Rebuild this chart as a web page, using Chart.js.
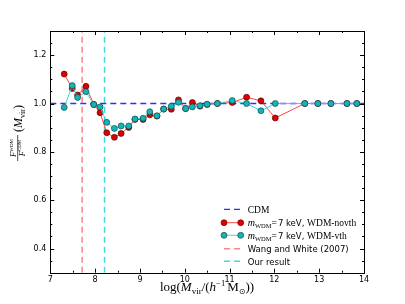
<!DOCTYPE html>
<html>
<head>
<meta charset="utf-8">
<script src="https://cdn.jsdelivr.net/npm/chart.js@4/dist/chart.umd.min.js"></script>
<style>
html,body{margin:0;padding:0;background:#fff;}
#wrap{width:405px;height:304px;position:relative;}
</style>
</head>
<body>
<div id="wrap"><canvas id="c" width="405" height="304"></canvas></div>
<script>
// ---- data ----
const massBins = [7.31, 7.49, 7.61, 7.795, 7.97, 8.11, 8.26, 8.43, 8.58, 8.75, 8.89, 9.07, 9.22, 9.38, 9.53, 9.70, 9.86, 10.02, 10.17, 10.34, 10.50, 10.73, 11.06, 11.38, 11.70, 12.02, 12.68, 12.97, 13.26, 13.62, 13.84];
const ratioNovth = [1.122, 1.062, 1.035, 1.071, 0.996, 0.962, 0.879, 0.860, 0.876, 0.901, 0.934, 0.934, 0.953, 0.948, 0.977, 0.976, 1.015, 0.979, 1.004, 0.989, 0.996, 1.0, 1.004, 1.026, 1.011, 0.940, 1.0, 1.0, 1.0, 1.0, 1.0];
const ratioVth = [0.984, 1.074, 1.025, 1.049, 0.996, 0.986, 0.922, 0.897, 0.907, 0.907, 0.936, 0.939, 0.966, 0.949, 0.977, 0.989, 1.005, 0.979, 0.986, 0.991, 0.997, 1.0, 1.012, 1.0, 0.970, 1.0, 1.0, 1.0, 1.0, 1.0, 1.0];
const cdmX = [7, 14];
const cdmY = [1.0, 1.0];
const wangWhiteMass = 7.71;
const ourResultMass = 8.21;
const xTickValues = [7, 8, 9, 10, 11, 12, 13, 14];
const yTickValues = [0.4, 0.6, 0.8, 1.0, 1.2];
const xMinorTicks = [7.5, 8.5, 9.5, 10.5, 11.5, 12.5, 13.5];
const yMinorTicks = [0.35, 0.45, 0.5, 0.55, 0.65, 0.7, 0.75, 0.85, 0.9, 0.95, 1.05, 1.1, 1.15, 1.25];
const legendLabels = ['CDM', 'mWDM = 7 keV, WDM-novth', 'mWDM = 7 keV, WDM-vth', 'Wang and White (2007)', 'Our result'];

const SERIF = '"Liberation Serif", "DejaVu Serif", serif';
const SANS = '"DejaVu Sans", sans-serif';

const colRedLine = 'rgba(255,40,40,0.85)';
const colRedFill = '#e00000';
const colCyanLine = 'rgba(40,215,215,0.9)';
const colCyanFill = '#12b5b5';
const colBlue = '#2f2fff';
const colRedV = 'rgba(255,90,90,0.75)';
const colCyanV = 'rgba(40,215,215,0.9)';

function pts(xs, ys) { return xs.map((x, i) => ({x: x, y: ys[i]})); }

function drawRich(ctx, segs, x, y, align) {
  let total = 0;
  segs.forEach(s => { ctx.font = s.font; s.w = ctx.measureText(s.t).width; total += s.w + (s.gap || 0); });
  let cx = align === 'center' ? x - total / 2 : x;
  segs.forEach(s => {
    ctx.font = s.font;
    ctx.fillText(s.t, cx, y + (s.dy || 0));
    cx += s.w + (s.gap || 0);
  });
  return total;
}

const decorPlugin = {
  id: 'decor',
  afterDatasetsDraw(chart) {
    const ctx = chart.ctx;
    const a = chart.chartArea;
    const xs = chart.scales.x, ys = chart.scales.y;
    ctx.save();
    // frame
    ctx.strokeStyle = '#000';
    ctx.lineWidth = 1;
    ctx.strokeRect(Math.round(a.left) + 0.5, Math.round(a.top) + 0.5, Math.round(a.right - a.left), Math.round(a.bottom - a.top));
    // inward ticks on all sides
    ctx.beginPath();
    const tickX = (v, len) => {
      const p = Math.round(xs.getPixelForValue(v)) + 0.5;
      ctx.moveTo(p, a.bottom); ctx.lineTo(p, a.bottom - len);
      ctx.moveTo(p, a.top); ctx.lineTo(p, a.top + len);
    };
    const tickY = (v, len) => {
      const p = Math.round(ys.getPixelForValue(v)) + 0.5;
      ctx.moveTo(a.left, p); ctx.lineTo(a.left + len, p);
      ctx.moveTo(a.right, p); ctx.lineTo(a.right - len, p);
    };
    xTickValues.forEach(v => tickX(v, 4));
    xMinorTicks.forEach(v => tickX(v, 2));
    yTickValues.forEach(v => tickY(v, 4));
    yMinorTicks.forEach(v => tickY(v, 2));
    ctx.stroke();

    // legend
    ctx.fillStyle = '#000';
    const lx0 = 224, lx1 = 240.7, tx = 247.7;
    const rows = [209.3, 222.7, 235.3, 248.7, 261.3];
    const ds = chart.data.datasets;
    [0, 1, 2, 3, 4].forEach((di, i) => {
      const d = ds[di];
      const y = rows[i];
      ctx.save();
      ctx.strokeStyle = d.borderColor;
      ctx.lineWidth = d.borderWidth;
      ctx.setLineDash(d.borderDash || []);
      ctx.beginPath();
      ctx.moveTo(lx0, y); ctx.lineTo(lx1, y);
      ctx.stroke();
      ctx.setLineDash([]);
      if (d.pointRadius > 0) {
        [lx0, lx1].forEach(px => {
          ctx.beginPath();
          ctx.arc(px, y, d.pointRadius, 0, Math.PI * 2);
          ctx.fillStyle = d.pointBackgroundColor;
          ctx.fill();
          ctx.lineWidth = d.pointBorderWidth;
          ctx.strokeStyle = d.pointBorderColor;
          ctx.stroke();
        });
      }
      ctx.restore();
      ctx.fillStyle = '#000';
      ctx.textBaseline = 'alphabetic';
      const by = y + 3.2;
      if (i === 0) {
        drawRich(ctx, [{t: 'CDM', font: '9.5px ' + SERIF}], tx, by, 'left');
      } else if (i === 1 || i === 2) {
        drawRich(ctx, [
          {t: 'm', font: 'italic 10px ' + SERIF},
          {t: 'WDM', font: '6.5px ' + SERIF, dy: 2},
          {t: '=', font: '9.5px ' + SERIF, gap: 1},
          {t: '7 keV, ', font: '8.5px ' + SANS},
          {t: i === 1 ? 'WDM-novth' : 'WDM-vth', font: '9.5px ' + SERIF}
        ], tx, by, 'left');
      } else {
        drawRich(ctx, [{t: legendLabels[i], font: '8.5px ' + SANS}], tx, by, 'left');
      }
    });

    // x title
    ctx.textBaseline = 'alphabetic';
    drawRich(ctx, [
      {t: 'log(', font: '13px ' + SERIF},
      {t: 'M', font: 'italic 13px ' + SERIF},
      {t: 'vir', font: '9px ' + SERIF, dy: 2.5},
      {t: '/(', font: '13px ' + SERIF},
      {t: 'h', font: 'italic 13px ' + SERIF},
      {t: '\u22121', font: '8.5px ' + SERIF, dy: -5, gap: 2},
      {t: 'M', font: '13px ' + SERIF},
      {t: '\u2299', font: '8px "DejaVu Sans", sans-serif', dy: 2.5},
      {t: '))', font: '13px ' + SERIF}
    ], 207, 291, 'center');

    // y title (rotated)
    ctx.save();
    ctx.translate(17.5, 131);
    ctx.rotate(-Math.PI / 2);
    const num = [
      {t: 'F', font: 'italic 8.5px ' + SERIF},
      {t: 'WDM', font: '5px ' + SERIF, dy: -3.5}
    ];
    const den = [
      {t: 'F', font: 'italic 8.5px ' + SERIF},
      {t: 'CDM', font: '5px ' + SERIF, dy: -3.5}
    ];
    drawRich(ctx, num, -17, -1.5, 'center');
    drawRich(ctx, den, -17, 7, 'center');
    ctx.lineWidth = 0.7;
    ctx.strokeStyle = '#000';
    ctx.beginPath();
    ctx.moveTo(-30, 0.2); ctx.lineTo(-4, 0.2);
    ctx.stroke();
    drawRich(ctx, [
      {t: '(', font: '12px ' + SERIF},
      {t: 'M', font: 'italic 12px ' + SERIF},
      {t: 'vir', font: '8px ' + SERIF, dy: 2.5},
      {t: ')', font: '12px ' + SERIF}
    ], -1, 4.5, 'left');
    ctx.restore();

    ctx.restore();
  }
};

new Chart(document.getElementById('c'), {
  type: 'scatter',
  data: {
    datasets: [
      {
        label: legendLabels[0],
        data: pts(cdmX, cdmY),
        showLine: true, borderColor: colBlue, borderWidth: 1.3, borderDash: [6, 4],
        pointRadius: 0, order: 3
      },
      {
        label: legendLabels[1],
        data: pts(massBins, ratioNovth),
        showLine: true, borderColor: colRedLine, borderWidth: 1,
        pointRadius: 3, pointBackgroundColor: colRedFill, pointBorderColor: '#3a0000', pointBorderWidth: 0.6,
        order: 2
      },
      {
        label: legendLabels[2],
        data: pts(massBins, ratioVth),
        showLine: true, borderColor: colCyanLine, borderWidth: 1,
        pointRadius: 3, pointBackgroundColor: colCyanFill, pointBorderColor: '#063a3a', pointBorderWidth: 0.6,
        order: 1
      },
      {
        label: legendLabels[3],
        data: [{x: wangWhiteMass, y: 0.3}, {x: wangWhiteMass, y: 1.3}],
        showLine: true, borderColor: colRedV, borderWidth: 1.5, borderDash: [6, 4],
        pointRadius: 0, order: 4
      },
      {
        label: legendLabels[4],
        data: [{x: ourResultMass, y: 0.3}, {x: ourResultMass, y: 1.3}],
        showLine: true, borderColor: colCyanV, borderWidth: 1.5, borderDash: [6, 4],
        pointRadius: 0, order: 4
      }
    ]
  },
  options: {
    responsive: false,
    animation: false,
    events: [],
    layout: {padding: {top: 31, right: 41, left: 0, bottom: 0}},
    plugins: {legend: {display: false}, tooltip: {enabled: false}},
    elements: {line: {tension: 0}},
    scales: {
      x: {
        type: 'linear', min: 7, max: 14,
        afterBuildTicks: s => { s.ticks = xTickValues.map(v => ({value: v})); },
        afterFit: s => { s.height = 31.3; },
        ticks: {color: '#000', font: {family: 'DejaVu Sans', size: 8}, padding: 2, maxRotation: 0,
                callback: v => String(v)},
        grid: {display: false, drawTicks: false},
        border: {display: false}
      },
      y: {
        type: 'linear', min: 0.3, max: 1.3,
        afterBuildTicks: s => { s.ticks = yTickValues.map(v => ({value: v})); },
        afterFit: s => { s.width = 50.3; },
        ticks: {color: '#000', font: {family: 'DejaVu Sans', size: 8}, padding: 4,
                callback: v => Number(v).toFixed(1)},
        grid: {display: false, drawTicks: false},
        border: {display: false}
      }
    }
  },
  plugins: [decorPlugin]
});
</script>
</body>
</html>
